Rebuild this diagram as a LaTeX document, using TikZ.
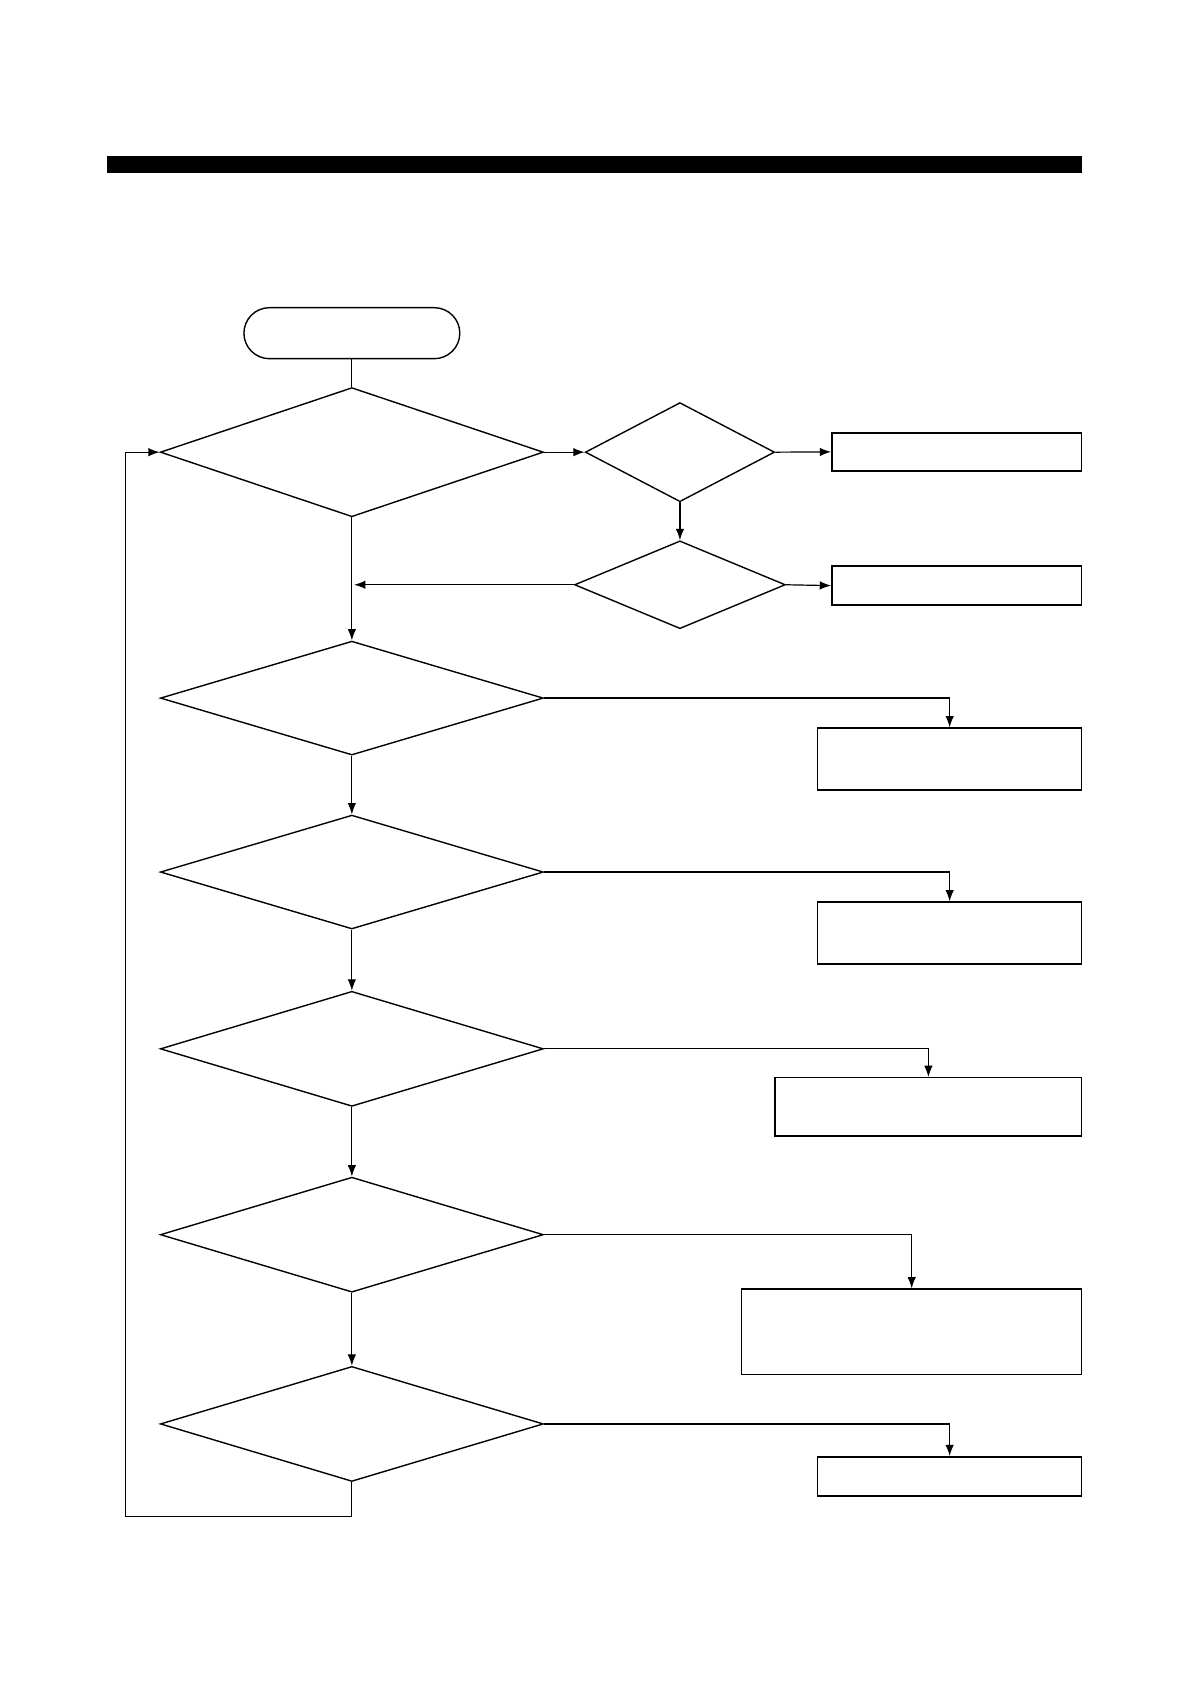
\documentclass[tikz,border=0pt]{standalone}
\usepackage{tikz}
\usetikzlibrary{
  calc,              % coordinate math
  positioning,       % relative placement
  shapes.geometric,  % diamond decisions
  arrows.meta
}

\tikzset{
  decision/.style={diamond, draw, line width=0.7pt, inner sep=0pt,
    minimum width=6.76cm, minimum height=2.03cm},
  procbox/.style={rectangle, draw, line width=0.7pt, inner sep=0pt,
    minimum width=4.66cm, minimum height=1.09cm},
  terminal/.style={rectangle, draw, line width=0.7pt, rounded corners=0.45cm,
    minimum width=3.81cm, minimum height=0.9cm},
  flow/.style={line width=0.6pt, -{Latex[length=2mm, width=1.5mm]}}
}

\begin{document}
\begin{tikzpicture}
        \useasboundingbox (0,0) rectangle (21,-29.72);

        % Heading bar
        \fill (1.89,-2.75) rectangle (19.09,-3.05);

        % Start
        \node[terminal] (start) at (6.21,-5.88) {};

        % Main column of decisions
        \node[decision, minimum height=2.28cm] (chkA) at (6.21,-7.98) {};
        \node[decision, minimum height=2.01cm] (chkB) at (6.21,-12.32) {};
        \node[decision, minimum height=2.01cm] (chkC) at (6.21,-15.39) {};
        \node[decision] (chkD) at (6.21,-18.51) {};
        \node[decision] (chkE) at (6.21,-21.79) {};
        \node[decision] (chkF) at (6.21,-25.13) {};

        % Side decisions
        \node[decision, minimum width=3.34cm, minimum height=1.75cm] (subA) at (12.0,-7.98) {};
        \node[decision, minimum width=3.72cm, minimum height=1.55cm] (subB) at (12.0,-10.32) {};

        % Result boxes
        \node[procbox, minimum width=4.41cm, minimum height=0.67cm] (resA) at (16.885,-7.975) {};
        \node[procbox, minimum width=4.41cm, minimum height=0.69cm] (resB) at (16.885,-10.335) {};
        \node[procbox] (resC) at (16.76,-13.395) {};
        \node[procbox] (resD) at (16.76,-16.465) {};
        \node[procbox, minimum width=5.41cm, minimum height=1.03cm] (resE) at (16.385,-19.535) {};
        \node[procbox, minimum width=6.0cm, minimum height=1.51cm] (resF) at (16.09,-23.505) {};
        \node[procbox, minimum height=0.69cm] (resG) at (16.76,-26.055) {};

        % Connectors
        \draw[line width=0.6pt] (start) -- (chkA);
        \draw[flow] (chkA.east) -- (subA.west);
        \draw[flow] (subA.east) -- (resA.west);
        \draw[flow] (subA.south) -- (subB.north);
        \draw[flow] (subB.east) -- (resB.west);
        \draw[flow] (subB.west) -- ($(subB.west -| chkA.south)+(0.04,0)$);
        \draw[flow] (chkA.south) -- (chkB.north);
        \draw[flow] (chkB.south) -- (chkC.north);
        \draw[flow] (chkC.south) -- (chkD.north);
        \draw[flow] (chkD.south) -- (chkE.north);
        \draw[flow] (chkE.south) -- (chkF.north);

        \draw[flow] (chkB.east) -| (resC.north);
        \draw[flow] (chkC.east) -| (resD.north);
        \draw[flow] (chkD.east) -| (resE.north);
        \draw[flow] (chkE.east) -| (resF.north);
        \draw[flow] (chkF.east) -| (resG.north);

        % Loop back to the top
        \coordinate (loopcorner) at (2.21,-26.77);
        \draw[flow] (chkF.south) |- (loopcorner) |- (chkA.west);
    \end{tikzpicture}
\end{document}
